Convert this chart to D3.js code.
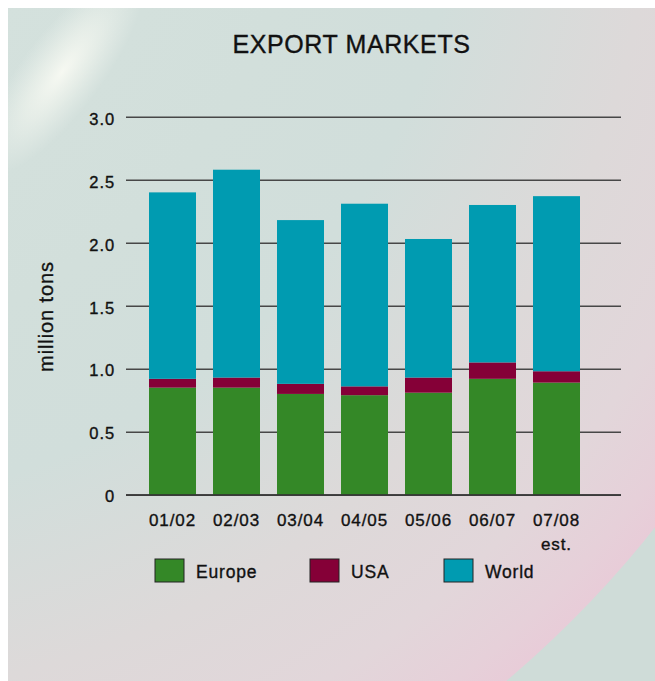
<!DOCTYPE html>
<html><head><meta charset="utf-8">
<script src="https://cdn.jsdelivr.net/npm/d3@7"></script>
<style>
html,body{margin:0;padding:0;background:#fff;}
svg{display:block;font-family:"Liberation Sans",Arial,Helvetica,sans-serif;}
svg text{stroke:#111;stroke-width:0.35px;paint-order:stroke;}
</style>
</head><body>
<svg id="c" width="655" height="681"></svg>
<script>
// ---- data ----
const categories = ["01/02","02/03","03/04","04/05","05/06","06/07","07/08"];
const subLabels  = ["","","","","","","est."];
const europe = [0.85,0.85,0.80,0.79,0.81,0.92,0.89];
const usa    = [0.07,0.08,0.08,0.07,0.12,0.13,0.09];
const world  = [1.48,1.65,1.30,1.45,1.10,1.25,1.39];
const seriesNames = ["Europe","USA","World"];
const seriesColors = ["#348827","#850037","#009bb1"];
const yTicks = [0,0.5,1.0,1.5,2.0,2.5,3.0];
const yTickLabels = ["0","0.5","1.0","1.5","2.0","2.5","3.0"];
const title = "EXPORT MARKETS";
const yTitle = "million tons";

const table = categories.map((c,i)=>({cat:c, Europe:europe[i], USA:usa[i], World:world[i]}));

const svg = d3.select("#c");
const defs = svg.append("defs");

// ---- background ----
const bg = defs.append("radialGradient").attr("id","bgGrad")
  .attr("gradientUnits","userSpaceOnUse").attr("cx",-190).attr("cy",-142).attr("r",1078);
[[0,"#d6e3df"],[0.45,"#d2dfdb"],[0.6,"#d1dedb"],[0.78,"#ddd9d9"],[0.9,"#e2d6da"],[0.97,"#e6d0d9"],[1,"#e8ccd8"]]
  .forEach(([o,c])=>bg.append("stop").attr("offset",o).attr("stop-color",c));

const glow = defs.append("radialGradient").attr("id","glow")
  .attr("gradientUnits","userSpaceOnUse").attr("cx",0).attr("cy",0).attr("r",1)
  .attr("gradientTransform","translate(62,72) rotate(-53) scale(125,40)");
[[0,"#fafbf4",0.9],[0.45,"#f4f7f0",0.55],[1,"#eef3ee",0]]
  .forEach(([o,c,a])=>glow.append("stop").attr("offset",o).attr("stop-color",c).attr("stop-opacity",a));

defs.append("clipPath").attr("id","panel").append("rect")
  .attr("x",8).attr("y",8).attr("width",647).attr("height",673);

const bgG = svg.append("g").attr("clip-path","url(#panel)");
bgG.append("rect").attr("x",8).attr("y",8).attr("width",647).attr("height",673).attr("fill","url(#bgGrad)");
bgG.append("rect").attr("x",8).attr("y",8).attr("width",647).attr("height",673).attr("fill","url(#glow)");
const R=1078, cx=-190, cy=-142;
bgG.append("path")
  .attr("fill-rule","evenodd").attr("fill","#cfdcd8")
  .attr("d",`M8,8H655V681H8Z M${cx-R},${cy} a${R},${R} 0 1,0 ${2*R},0 a${R},${R} 0 1,0 ${-2*R},0 Z`);

// ---- scales ----
const y = d3.scaleLinear().domain([0,3]).range([494.7,116.8]);
const x = d3.scaleBand().domain(categories).range([140.5,588.5]).paddingInner(0.2656).paddingOuter(0.1328);
const color = d3.scaleOrdinal().domain(seriesNames).range(seriesColors);

// ---- title ----
svg.append("text").attr("x",351.5).attr("y",53).attr("text-anchor","middle")
  .attr("font-size",25).attr("letter-spacing","0.6px").attr("fill","#111").text(title);

// ---- y axis / grid ----
const yAxis = d3.axisLeft(y).tickValues(yTicks)
  .tickFormat((d,i)=>yTickLabels[i]).tickSize(-495).tickPadding(11);
const gy = svg.append("g").attr("transform","translate(126,0)").call(yAxis);
gy.select(".domain").remove();
gy.selectAll(".tick line").attr("stroke","#474747").attr("stroke-width",1.5);
gy.selectAll(".tick text").attr("font-size",16.5).attr("letter-spacing","0.9px")
  .attr("fill","#111").attr("dy","0.44em").attr("font-family","Liberation Sans, Arial, sans-serif");

// ---- bars ----
const stacked = d3.stack().keys(seriesNames)(table);
svg.append("g").selectAll("g").data(stacked).join("g")
  .attr("fill",d=>color(d.key))
  .selectAll("rect").data(d=>d).join("rect")
  .attr("x",d=>x(d.data.cat)).attr("width",x.bandwidth())
  .attr("y",d=>y(d[1])).attr("height",d=>y(d[0])-y(d[1]));

// baseline over bars
svg.append("line").attr("x1",126).attr("x2",621).attr("y1",y(0)).attr("y2",y(0))
  .attr("stroke","#2a2a2a").attr("stroke-opacity",0.75).attr("stroke-width",1.5);

// ---- x axis labels ----
const xAxis = d3.axisBottom(x).tickSize(0).tickPadding(19.2);
const gx = svg.append("g").attr("transform",`translate(0,${y(0)})`).call(xAxis);
gx.select(".domain").remove();
gx.selectAll(".tick text").attr("font-size",17).attr("letter-spacing","0.9px")
  .attr("fill","#111").attr("font-family","Liberation Sans, Arial, sans-serif");
svg.append("g").selectAll("text").data(categories.filter((c,i)=>subLabels[i])).join("text")
  .attr("x",d=>x(d)+x.bandwidth()/2).attr("y",550).attr("text-anchor","middle")
  .attr("font-size",17).attr("letter-spacing","0.9px").attr("fill","#111")
  .text(d=>subLabels[categories.indexOf(d)]);

// ---- y title ----
svg.append("text").attr("transform","translate(53,316.5) rotate(-90)")
  .attr("text-anchor","middle").attr("font-size",20).attr("letter-spacing","0.9px")
  .attr("fill","#111").text(yTitle);

// ---- legend ----
const legendX = [155,310,444];
const lg = svg.append("g").selectAll("g").data(seriesNames).join("g")
  .attr("transform",(d,i)=>`translate(${legendX[i]},559)`);
lg.append("rect").attr("width",29).attr("height",23).attr("fill",d=>color(d))
  .attr("stroke","#222").attr("stroke-width",1);
lg.append("text").attr("x",41).attr("y",18.7).attr("font-size",17.5).attr("letter-spacing","0.8px")
  .attr("fill","#111").text(d=>d);
</script>
</body></html>
